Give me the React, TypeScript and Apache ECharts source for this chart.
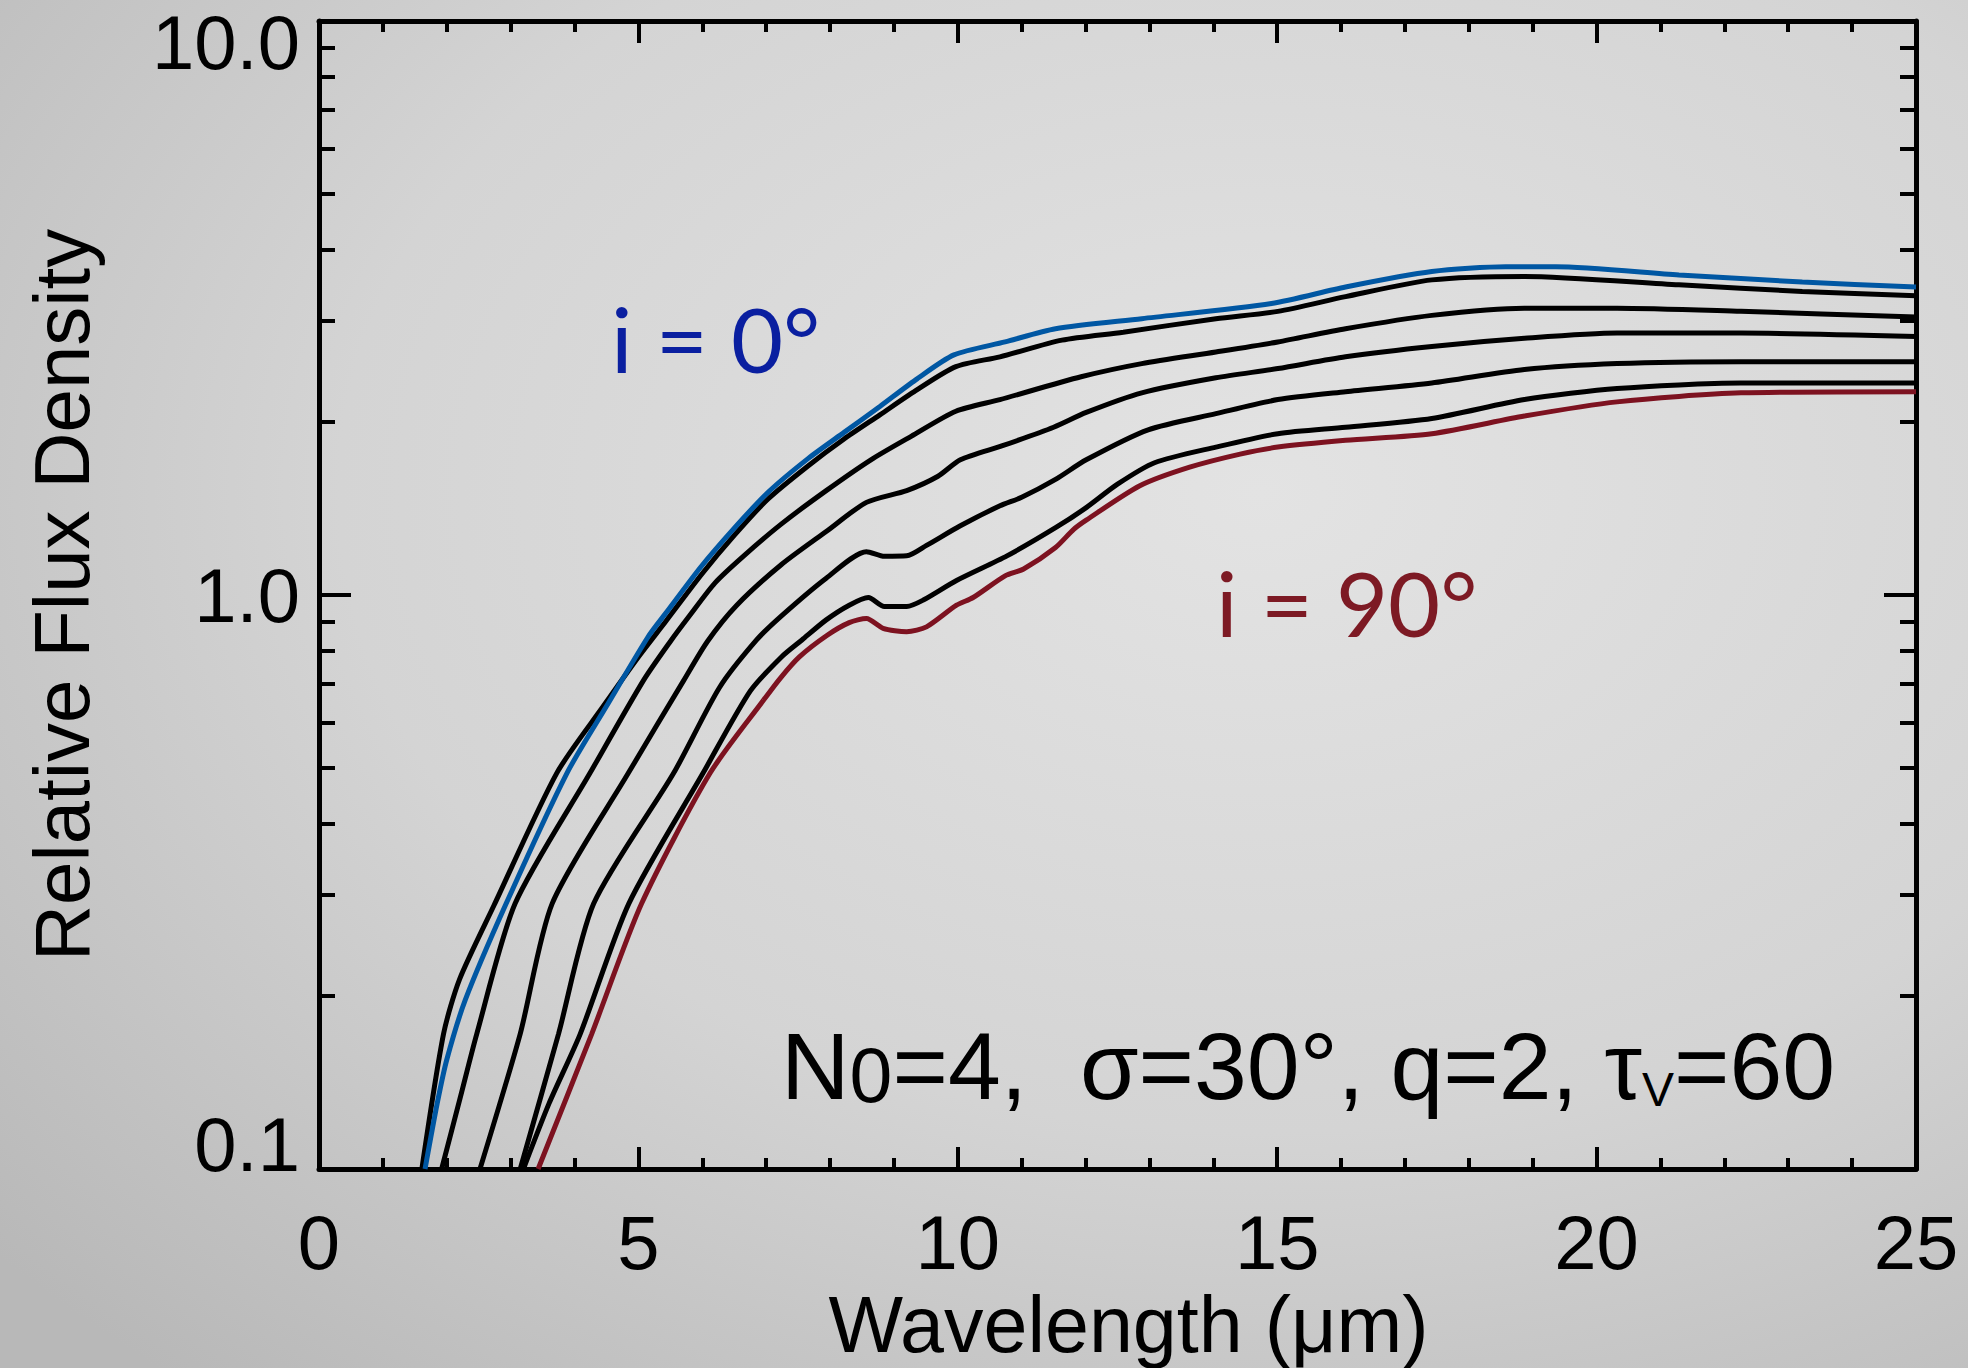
import React, { useEffect, useRef } from 'react';
import * as echarts from 'echarts';

// ---- data (wavelength in μm, relative flux density) ----
const yMinorTicks = [0.2, 0.3, 0.4, 0.5, 0.6, 0.7, 0.8, 0.9, 2, 3, 4, 5, 6, 7, 8, 9];

const incl0: [number, number][] = [
  [1.66, 0.1], [1.85, 0.13], [2.0, 0.155], [2.29, 0.197], [2.93, 0.29], [3.88, 0.489], [4.5, 0.64],
  [5.15, 0.845], [5.43, 0.93], [5.98, 1.12], [6.48, 1.3], [7.03, 1.51], [7.66, 1.73], [8.22, 1.92],
  [8.78, 2.13], [9.34, 2.37], [9.94, 2.62], [10.74, 2.76], [11.53, 2.91], [12.88, 3.03], [14.91, 3.22],
  [16.07, 3.44], [17.42, 3.66], [18.58, 3.73], [19.36, 3.73], [21.29, 3.61], [23.22, 3.51], [25, 3.44],
];
const incl15: [number, number][] = [
  [1.61, 0.1], [1.95, 0.172], [2.2, 0.214], [2.74, 0.288], [3.72, 0.489], [4.45, 0.64], [5.0, 0.78],
  [5.43, 0.9], [6.0, 1.09], [6.5, 1.27], [7.03, 1.47], [7.66, 1.68], [8.22, 1.87], [8.78, 2.06],
  [9.34, 2.27], [9.97, 2.5], [10.66, 2.6], [11.63, 2.78], [12.59, 2.87], [14.04, 3.03], [15.01, 3.12],
  [16.07, 3.31], [17.42, 3.54], [18.87, 3.59], [21.29, 3.47], [23.22, 3.38], [25, 3.32],
];
const incl30: [number, number][] = [
  [1.92, 0.1], [2.21, 0.133], [2.47, 0.172], [3.07, 0.29], [4.24, 0.489], [5.08, 0.71], [5.5, 0.83],
  [5.8, 0.92], [6.2, 1.05], [6.65, 1.17], [7.24, 1.33], [7.94, 1.52], [8.64, 1.72], [9.27, 1.89],
  [9.97, 2.09], [10.66, 2.19], [11.93, 2.4], [12.88, 2.53], [14.04, 2.65], [15.01, 2.76], [16.07, 2.91],
  [17.42, 3.07], [18.87, 3.16], [20.32, 3.16], [22.26, 3.12], [25, 3.05],
];
const incl45: [number, number][] = [
  [2.52, 0.1], [3.15, 0.172], [3.65, 0.29], [4.84, 0.489], [5.71, 0.71], [6.08, 0.83], [6.54, 0.96],
  [7.24, 1.13], [7.94, 1.29], [8.57, 1.45], [9.2, 1.52], [9.69, 1.61], [10.04, 1.72], [10.7, 1.82],
  [11.5, 1.96], [12.01, 2.08], [12.88, 2.25], [14.04, 2.39], [15.01, 2.48], [16.07, 2.6], [17.42, 2.71],
  [18.87, 2.8], [20.32, 2.86], [22.26, 2.86], [25, 2.82],
];
const incl60: [number, number][] = [
  [3.15, 0.1], [3.75, 0.172], [4.3, 0.29], [5.55, 0.489], [6.27, 0.69], [6.85, 0.835], [7.24, 0.92],
  [7.94, 1.07], [8.57, 1.19], [8.85, 1.168], [9.2, 1.17], [9.51, 1.22], [10.04, 1.32], [10.66, 1.43],
  [11.0, 1.48], [11.53, 1.59], [12.01, 1.72], [12.98, 1.94], [14.04, 2.07], [15.01, 2.19], [16.07, 2.26],
  [17.42, 2.34], [18.87, 2.47], [20.32, 2.53], [22.26, 2.55], [25, 2.55],
];
const incl75: [number, number][] = [
  [3.2, 0.1], [3.6, 0.13], [4.09, 0.172], [4.85, 0.29], [6.01, 0.489], [6.75, 0.68], [7.24, 0.78],
  [7.56, 0.835], [7.94, 0.905], [8.3, 0.96], [8.6, 0.99], [8.85, 0.955], [9.2, 0.955], [9.46, 0.98],
  [9.98, 1.06], [10.77, 1.17], [11.53, 1.31], [12.01, 1.42], [12.5, 1.56], [13.08, 1.7], [14.04, 1.81],
  [15.01, 1.91], [16.07, 1.96], [17.42, 2.03], [18.87, 2.19], [20.32, 2.29], [22.26, 2.34], [25, 2.34],
];
const incl90: [number, number][] = [
  [3.43, 0.1], [4.27, 0.172], [5.05, 0.29], [6.12, 0.489], [6.96, 0.656], [7.22, 0.716], [7.52, 0.78],
  [7.95, 0.85], [8.3, 0.895], [8.57, 0.91], [8.83, 0.875], [9.2, 0.863], [9.51, 0.88], [9.98, 0.96],
  [10.24, 0.99], [10.74, 1.08], [11.03, 1.11], [11.53, 1.21], [11.81, 1.3], [12.01, 1.35], [12.85, 1.55],
  [13.63, 1.67], [14.42, 1.76], [15.01, 1.81], [16.07, 1.86], [17.42, 1.91], [18.87, 2.05],
  [20.32, 2.17], [22.26, 2.25], [25, 2.26],
];

const FONT = '"Liberation Sans", Arial, Helvetica, sans-serif';
const ANNOT_FONT = 'Lato, "Open Sans", sans-serif';

export default function App() {
  const ref = useRef<HTMLDivElement>(null);

  useEffect(() => {
    if (!ref.current) return;
    const chart = echarts.init(ref.current, null, { renderer: 'svg', width: 1968, height: 1368 });

    const axisLine = { show: true, onZero: false, lineStyle: { color: '#000', width: 5 } };
    const noAxisLine = { show: false, onZero: false };
    const tickStyle = { color: '#000', width: 4 };

    const line = (name: string, data: [number, number][], color: string, z: number) => ({
      type: 'line',
      name,
      data,
      xAxisIndex: 0,
      yAxisIndex: 0,
      symbol: 'none',
      showSymbol: false,
      smooth: 0.25,
      clip: true,
      z,
      lineStyle: { color, width: 5 },
    });

    const labelRich = {
      t: { fontSize: 76, fontFamily: FONT, color: '#000', lineHeight: 2, padding: [42, 0, 0, 0] },
      b: { fontSize: 76, fontFamily: FONT, color: '#000', lineHeight: 2, padding: [0, 0, 50, 0] },
      m: { fontSize: 76, fontFamily: FONT, color: '#000' },
    };

    chart.setOption({
      animation: false,
      backgroundColor: 'transparent',
      grid: { left: 319, right: 52, top: 21, bottom: 199, containLabel: false, outerBoundsMode: 'none' },
      graphic: [
        {
          type: 'rect',
          z: -100,
          silent: true,
          shape: { x: 0, y: 0, width: 1968, height: 1368 },
          style: {
            fill: new echarts.graphic.RadialGradient(0.64, 0.36, 0.85, [
              { offset: 0, color: '#e3e3e3' },
              { offset: 0.55, color: '#d4d4d4' },
              { offset: 1, color: '#b8b8b8' },
            ]),
          },
        },
        {
          type: 'text',
          x: 611,
          y: 338,
          z: 50,
          style: {
            text: 'i = 0°',
            fontSize: 90,
            fontFamily: ANNOT_FONT,
            fill: '#0a1fa0',
            align: 'left',
            verticalAlign: 'middle',
          },
        },
        {
          type: 'text',
          x: 1216,
          y: 602,
          z: 50,
          style: {
            text: 'i = 90°',
            fontSize: 90,
            fontFamily: ANNOT_FONT,
            fill: '#7d1a24',
            align: 'left',
            verticalAlign: 'middle',
          },
        },
        {
          type: 'text',
          x: 781,
          y: 1066,
          z: 50,
          style: {
            text: '{n|N}{s|0}{n|=4,  σ=30°, q=2, τ}{v|V}{n|=60}',
            align: 'left',
            verticalAlign: 'middle',
            rich: {
              n: { fontSize: 95, fontFamily: FONT, fill: '#000', lineHeight: 95, verticalAlign: 'middle' },
              s: {
                fontSize: 77,
                fontFamily: '"Liberation Sans Narrow", ' + FONT,
                fill: '#000',
                lineHeight: 68,
                verticalAlign: 'bottom',
              },
              v: { fontSize: 48, fontFamily: FONT, fill: '#000', lineHeight: 46, verticalAlign: 'bottom' },
            },
          },
        },
      ],
      xAxis: [
        {
          type: 'value',
          position: 'bottom',
          min: 0,
          max: 25,
          interval: 5,
          axisLine,
          axisTick: { show: true, inside: true, length: 22, lineStyle: tickStyle },
          minorTick: { show: true, splitNumber: 5, length: 11, lineStyle: tickStyle },
          splitLine: { show: false },
          minorSplitLine: { show: false },
          axisLabel: {
            show: true,
            margin: 35,
            fontSize: 76,
            color: '#000',
            fontFamily: FONT,
            showMinLabel: true,
            showMaxLabel: true,
          },
          name: 'Wavelength (μm)',
          nameLocation: 'middle',
          nameGap: 114,
          nameTextStyle: { fontSize: 79, color: '#000', fontFamily: FONT, padding: [0, 0, 0, 22] },
        },
        {
          type: 'value',
          position: 'top',
          min: 0,
          max: 25,
          interval: 5,
          axisLine,
          axisTick: { show: true, inside: true, length: 22, lineStyle: tickStyle },
          minorTick: { show: true, splitNumber: 5, length: 11, lineStyle: tickStyle },
          splitLine: { show: false },
          axisLabel: { show: false },
        },
      ],
      yAxis: [
        {
          type: 'log',
          logBase: 10,
          position: 'left',
          min: 0.1,
          max: 10,
          axisLine,
          axisTick: { show: true, inside: true, length: 32, lineStyle: tickStyle },
          splitLine: { show: false },
          axisLabel: {
            show: true,
            margin: 19,
            showMinLabel: true,
            showMaxLabel: true,
            formatter: (v: number) => {
              const s = v.toFixed(1);
              if (v > 5) return '{t|' + s + '}';
              if (v < 0.5) return '{b|' + s + '}';
              return '{m|' + s + '}';
            },
            rich: labelRich,
          },
          name: 'Relative Flux Density',
          nameLocation: 'middle',
          nameRotate: 90,
          nameGap: 218,
          nameTextStyle: { fontSize: 78, color: '#000', fontFamily: FONT },
        },
        {
          type: 'log',
          logBase: 10,
          position: 'left',
          min: 0.1,
          max: 10,
          axisLine: noAxisLine,
          axisTick: { show: true, inside: true, length: 16, lineStyle: tickStyle, customValues: yMinorTicks },
          splitLine: { show: false },
          axisLabel: { show: false },
        },
        {
          type: 'log',
          logBase: 10,
          position: 'right',
          min: 0.1,
          max: 10,
          axisLine,
          axisTick: { show: true, inside: true, length: 32, lineStyle: tickStyle },
          splitLine: { show: false },
          axisLabel: { show: false },
        },
        {
          type: 'log',
          logBase: 10,
          position: 'right',
          min: 0.1,
          max: 10,
          axisLine: noAxisLine,
          axisTick: { show: true, inside: true, length: 16, lineStyle: tickStyle, customValues: yMinorTicks },
          splitLine: { show: false },
          axisLabel: { show: false },
        },
      ],
      series: [
        line('i = 15°', incl15, '#000000', 3),
        line('i = 30°', incl30, '#000000', 3),
        line('i = 45°', incl45, '#000000', 3),
        line('i = 60°', incl60, '#000000', 3),
        line('i = 75°', incl75, '#000000', 3),
        line('i = 90°', incl90, '#7d1220', 4),
        line('i = 0°', incl0, '#0057a3', 5),
      ],
    });

    return () => {
      chart.dispose();
    };
  }, []);

  return (
    <div
      ref={ref}
      style={{ position: 'absolute', left: 0, top: 0, width: 1968, height: 1368, overflow: 'hidden' }}
    />
  );
}
